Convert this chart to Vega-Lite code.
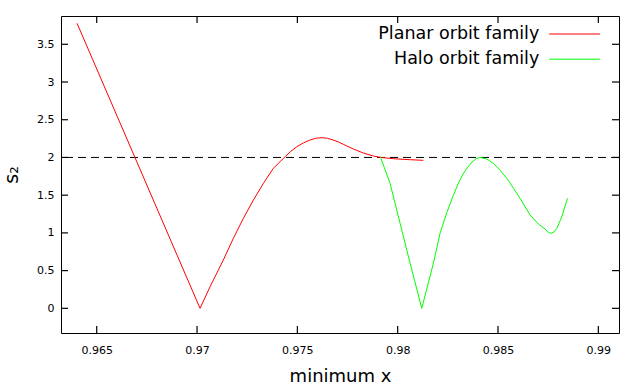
{
  "$schema": "https://vega.github.io/schema/vega-lite/v6.json",
  "width": 558,
  "height": 317,
  "autosize": {"type": "none"},
  "padding": {"left": 61, "top": 16, "right": 21, "bottom": 55},
  "background": "white",
  "config": {
    "view": {"stroke": "black", "strokeWidth": 1},
    "font": "DejaVu Sans",
    "axis": {
      "grid": false,
      "domain": false,
      "ticks": false,
      "labelColor": "black",
      "labelFont": "DejaVu Sans",
      "labelFontSize": 11,
      "titleColor": "black",
      "titleFont": "DejaVu Sans",
      "titleFontWeight": "normal"
    }
  },
  "datasets": {
    "xticks": [{"v": 0.965}, {"v": 0.97}, {"v": 0.975}, {"v": 0.98}, {"v": 0.985}, {"v": 0.99}],
    "yticks": [{"v": 0}, {"v": 0.5}, {"v": 1}, {"v": 1.5}, {"v": 2}, {"v": 2.5}, {"v": 3}, {"v": 3.5}],
    "curves": [
      {"x": 0.96402, "s2": 3.778, "family": "Planar orbit family"},
      {"x": 0.97015, "s2": 0.0, "family": "Planar orbit family"},
      {"x": 0.97065, "s2": 0.287, "family": "Planar orbit family"},
      {"x": 0.97131, "s2": 0.64, "family": "Planar orbit family"},
      {"x": 0.97181, "s2": 0.928, "family": "Planar orbit family"},
      {"x": 0.97231, "s2": 1.193, "family": "Planar orbit family"},
      {"x": 0.97281, "s2": 1.436, "family": "Planar orbit family"},
      {"x": 0.97331, "s2": 1.657, "family": "Planar orbit family"},
      {"x": 0.9738, "s2": 1.856, "family": "Planar orbit family"},
      {"x": 0.97439, "s2": 2.01, "family": "Planar orbit family"},
      {"x": 0.97467, "s2": 2.08, "family": "Planar orbit family"},
      {"x": 0.97497, "s2": 2.142, "family": "Planar orbit family"},
      {"x": 0.9753, "s2": 2.192, "family": "Planar orbit family"},
      {"x": 0.97563, "s2": 2.231, "family": "Planar orbit family"},
      {"x": 0.97592, "s2": 2.254, "family": "Planar orbit family"},
      {"x": 0.97622, "s2": 2.262, "family": "Planar orbit family"},
      {"x": 0.9765, "s2": 2.254, "family": "Planar orbit family"},
      {"x": 0.97679, "s2": 2.231, "family": "Planar orbit family"},
      {"x": 0.97704, "s2": 2.205, "family": "Planar orbit family"},
      {"x": 0.97729, "s2": 2.174, "family": "Planar orbit family"},
      {"x": 0.97779, "s2": 2.112, "family": "Planar orbit family"},
      {"x": 0.97829, "s2": 2.059, "family": "Planar orbit family"},
      {"x": 0.97879, "s2": 2.019, "family": "Planar orbit family"},
      {"x": 0.97912, "s2": 2.002, "family": "Planar orbit family"},
      {"x": 0.97979, "s2": 1.983, "family": "Planar orbit family"},
      {"x": 0.98062, "s2": 1.97, "family": "Planar orbit family"},
      {"x": 0.98128, "s2": 1.962, "family": "Planar orbit family"},
      {"x": 0.97914, "s2": 2.005, "family": "Halo orbit family"},
      {"x": 0.97937, "s2": 1.84, "family": "Halo orbit family"},
      {"x": 0.97962, "s2": 1.657, "family": "Halo orbit family"},
      {"x": 0.98012, "s2": 1.127, "family": "Halo orbit family"},
      {"x": 0.98062, "s2": 0.597, "family": "Halo orbit family"},
      {"x": 0.9812, "s2": 0.0, "family": "Halo orbit family"},
      {"x": 0.98178, "s2": 0.597, "family": "Halo orbit family"},
      {"x": 0.98211, "s2": 0.994, "family": "Halo orbit family"},
      {"x": 0.98245, "s2": 1.27, "family": "Halo orbit family"},
      {"x": 0.98278, "s2": 1.5, "family": "Halo orbit family"},
      {"x": 0.98303, "s2": 1.66, "family": "Halo orbit family"},
      {"x": 0.98328, "s2": 1.79, "family": "Halo orbit family"},
      {"x": 0.98346, "s2": 1.86, "family": "Halo orbit family"},
      {"x": 0.98371, "s2": 1.94, "family": "Halo orbit family"},
      {"x": 0.98391, "s2": 1.985, "family": "Halo orbit family"},
      {"x": 0.98411, "s2": 2.0, "family": "Halo orbit family"},
      {"x": 0.98444, "s2": 1.98, "family": "Halo orbit family"},
      {"x": 0.98477, "s2": 1.922, "family": "Halo orbit family"},
      {"x": 0.9851, "s2": 1.83, "family": "Halo orbit family"},
      {"x": 0.98544, "s2": 1.723, "family": "Halo orbit family"},
      {"x": 0.98577, "s2": 1.592, "family": "Halo orbit family"},
      {"x": 0.9861, "s2": 1.458, "family": "Halo orbit family"},
      {"x": 0.9866, "s2": 1.237, "family": "Halo orbit family"},
      {"x": 0.98701, "s2": 1.118, "family": "Halo orbit family"},
      {"x": 0.98735, "s2": 1.051, "family": "Halo orbit family"},
      {"x": 0.9875, "s2": 1.01, "family": "Halo orbit family"},
      {"x": 0.98763, "s2": 0.994, "family": "Halo orbit family"},
      {"x": 0.98778, "s2": 1.01, "family": "Halo orbit family"},
      {"x": 0.98793, "s2": 1.06, "family": "Halo orbit family"},
      {"x": 0.98818, "s2": 1.214, "family": "Halo orbit family"},
      {"x": 0.98846, "s2": 1.458, "family": "Halo orbit family"}
    ]
  },
  "layer": [
    {
      "data": {"values": [{"level": 2}]},
      "mark": {"type": "rule", "color": "black", "strokeWidth": 1, "strokeDash": [8, 5]},
      "encoding": {
        "y": {"field": "level", "type": "quantitative", "scale": {"domain": [-0.327, 3.875], "nice": false, "zero": false}, "axis": null}
      }
    },
    {
      "data": {"name": "xticks"},
      "mark": {"type": "rule", "color": "black", "strokeWidth": 1.2, "clip": true},
      "encoding": {
        "x": {"field": "v", "type": "quantitative", "scale": {"domain": [0.96322, 0.99103], "nice": false, "zero": false}, "axis": null},
        "y": {"datum": -0.327, "type": "quantitative", "axis": null},
        "y2": {"datum": -0.234}
      }
    },
    {
      "data": {"name": "xticks"},
      "mark": {"type": "rule", "color": "black", "strokeWidth": 1.2, "clip": true},
      "encoding": {
        "x": {"field": "v", "type": "quantitative", "axis": null},
        "y": {"datum": 3.875, "type": "quantitative", "axis": null},
        "y2": {"datum": 3.782}
      }
    },
    {
      "data": {"name": "yticks"},
      "mark": {"type": "rule", "color": "black", "strokeWidth": 1.2, "clip": true},
      "encoding": {
        "y": {"field": "v", "type": "quantitative", "axis": null},
        "x": {"datum": 0.96322, "type": "quantitative", "axis": null},
        "x2": {"datum": 0.96357}
      }
    },
    {
      "data": {"name": "yticks"},
      "mark": {"type": "rule", "color": "black", "strokeWidth": 1.2, "clip": true},
      "encoding": {
        "y": {"field": "v", "type": "quantitative", "axis": null},
        "x": {"datum": 0.99103, "type": "quantitative", "axis": null},
        "x2": {"datum": 0.99068}
      }
    },
    {
      "data": {"name": "curves"},
      "mark": {"type": "line", "strokeWidth": 1, "interpolate": "linear"},
      "encoding": {
        "x": {
          "field": "x", "type": "quantitative",
          "scale": {"domain": [0.96322, 0.99103], "nice": false, "zero": false},
          "axis": {"orient": "bottom", "values": [0.965, 0.97, 0.975, 0.98, 0.985, 0.99], "format": "~g", "labelPadding": 11, "title": "minimum x", "titleFontSize": 18, "titleY": 48, "titleBaseline": "alphabetic"}
        },
        "y": {
          "field": "s2", "type": "quantitative",
          "scale": {"domain": [-0.327, 3.875], "nice": false, "zero": false},
          "axis": {"orient": "left", "values": [0, 0.5, 1, 1.5, 2, 2.5, 3, 3.5], "format": "~g", "labelPadding": 7, "title": "s₂", "titleFontSize": 19, "titleX": -44, "titleY": 158.5, "titleAngle": -90, "titleBaseline": "alphabetic", "titleAlign": "center"}
        },
        "color": {
          "field": "family", "type": "nominal",
          "scale": {"domain": ["Planar orbit family", "Halo orbit family"], "range": ["#ff0000", "#00ff00"]},
          "legend": {
            "orient": "none", "legendX": 504.9, "legendY": 9.25,
            "title": null, "padding": 0,
            "symbolType": "M-5,0H5", "symbolSize": 104, "symbolStrokeWidth": 1,
            "labelAlign": "right", "labelOffset": -44.1, "labelFont": "DejaVu Sans", "labelFontSize": 17.5, "labelColor": "black",
            "rowPadding": 6.2, "labelLimit": 400
          }
        }
      }
    }
  ],
  "resolve": {"axis": {"x": "independent", "y": "independent"}}
}
